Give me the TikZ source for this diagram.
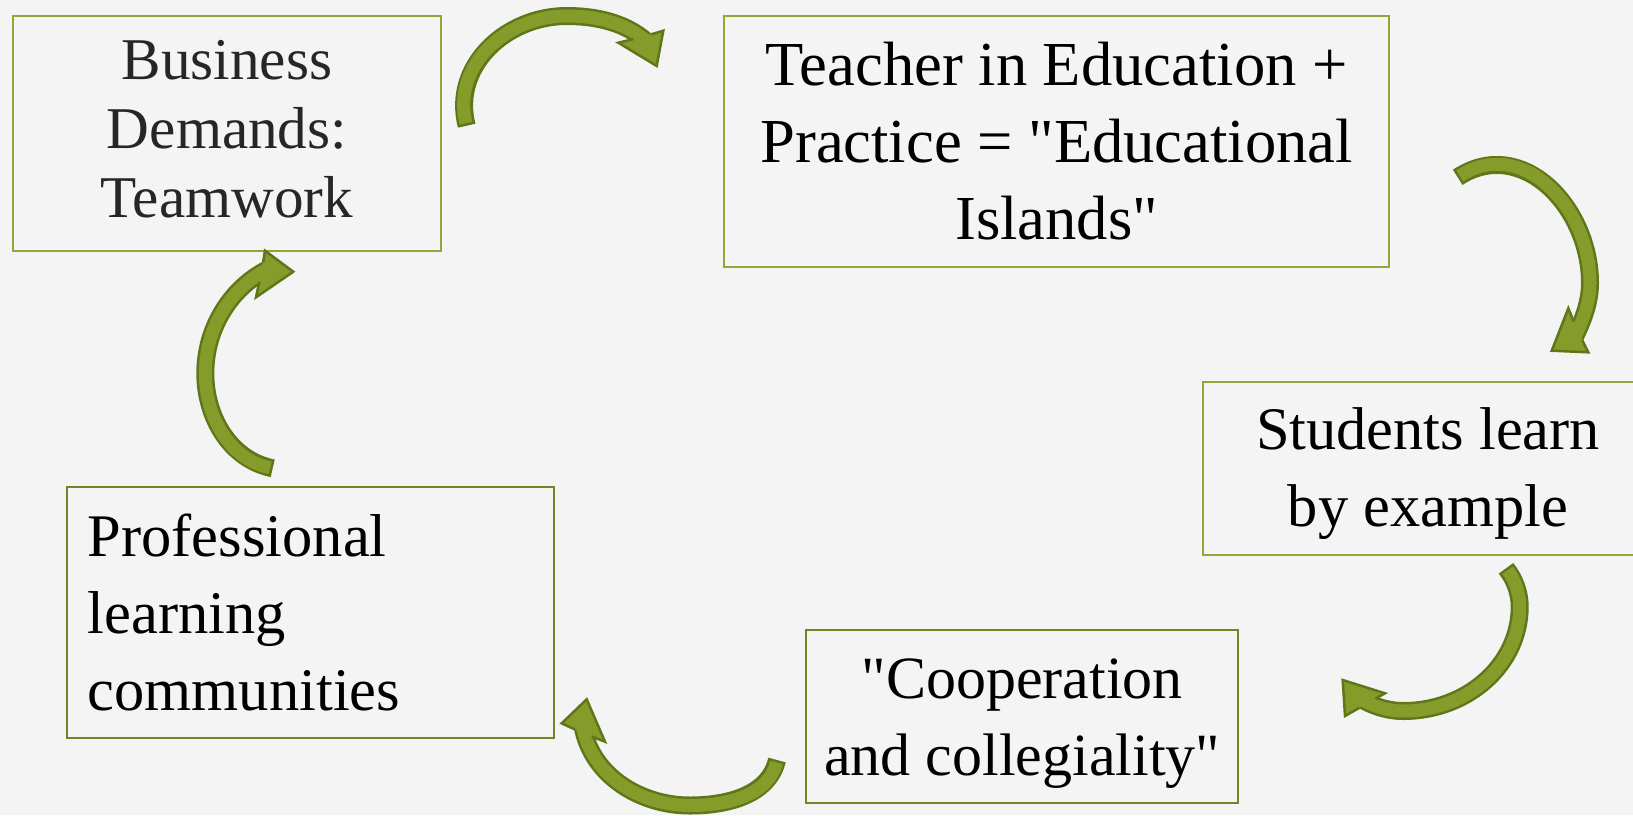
\documentclass[tikz,border=0pt]{standalone}
\usepackage{fontspec}
\setmainfont{Liberation Serif}[Ligatures=TeXOff]
\definecolor{bgc}{RGB}{244,244,244}
\definecolor{boxlt}{RGB}{141,168,56}
\definecolor{boxdk}{RGB}{112,134,38}
\definecolor{arrfill}{RGB}{133,155,42}
\definecolor{arrdark}{RGB}{95,118,25}
\definecolor{txtgray}{RGB}{38,38,38}
\begin{document}
\begin{tikzpicture}[x=0.5pt,y=-0.5pt,
  box/.style={draw=boxlt, line width=1pt, inner sep=0pt, align=center, text=black},
  shaftout/.style={draw=arrdark, line width=9pt},
  shaftin/.style={draw=arrfill, line width=6.5pt, shorten <=1.25pt},
  headfill/.style={fill=arrfill},
  headline/.style={draw=arrdark, line width=1.25pt, line join=miter},
]
\fill[bgc] (0,0) rectangle (1633,815);
\useasboundingbox (0,0) rectangle (1633,815);

% boxes
\node[box, minimum width=214pt, minimum height=117.5pt, text=txtgray,
      font=\fontsize{29.6pt}{34.6pt}\selectfont] (b1) at (227,133.2)
  {\rule{0pt}{27.5pt}Business\\Demands:\\Teamwork\rule[-12pt]{0pt}{12pt}};
\node[box, minimum width=332.75pt, minimum height=125.6pt,
      font=\fontsize{31.3pt}{38.5pt}\selectfont] (b2) at (1056.7,141.1)
  {\rule{0pt}{33.6pt}Teacher in Education +\\Practice = "Educational\\Islands"\rule[-12pt]{0pt}{12pt}};
\node[box, minimum width=224.7pt, minimum height=86.35pt,
      font=\fontsize{30.2pt}{38.35pt}\selectfont] (b3) at (1428,468.65)
  {\rule{0pt}{31.65pt}Students learn\\by example\rule[-12pt]{0pt}{12pt}};
\node[box, draw=boxdk, minimum width=216.15pt, minimum height=86.35pt,
      font=\fontsize{30pt}{38.35pt}\selectfont] (b4) at (1022.15,716.35)
  {\rule{0pt}{32.3pt}"Cooperation\\and collegiality"\rule[-12pt]{0pt}{12pt}};
\node[box, draw=boxdk, align=left, text width=222.65pt, inner xsep=10.5pt,
      minimum height=125.8pt,
      font=\fontsize{30.25pt}{38.5pt}\selectfont] (b5) at (310.35,612.5)
  {\rule{0pt}{32.5pt}Professional\\learning\\communities\rule[-12pt]{0pt}{12pt}};

% arrow 1 : b1 -> b2
\coordinate (a1t) at (466.7,125.7);
\coordinate (a1m) at (566.7,16);
\coordinate (a1e) at (650.7,45.3);
\begin{scope}
  \clip (0,0) -- (1633,0) -- (1633,815) -- (0,815) -- cycle
        (604.1,47.5) -- (611.8,76.5) -- (685.8,56.8) -- (678.1,27.8) -- cycle;
  \draw[shaftout] (a1t) .. controls (451.4,66.5) and (505.7,16) .. (a1m)
        .. controls (597.6,16) and (629.1,23.2) .. (a1e);
  \draw[shaftin] (a1t) .. controls (451.4,66.5) and (505.7,16) .. (a1m)
        .. controls (597.6,16) and (629.1,23.2) .. (a1e);
\end{scope}
\fill[headfill] (618.3,42.7) -- (656.7,66) -- (663.3,30.7) -- cycle;
\draw[headline] (633.4,39.1) -- (618.3,42.7) -- (656.7,66) -- (663.3,30.7) -- (651.2,34.3);

% arrow 2 : b2 -> b3
\coordinate (a2t) at (1457.7,177.3);
\coordinate (a2m) at (1590,283);
\coordinate (a2e) at (1572.6,341.5);
\begin{scope}
  \clip (0,0) -- (1633,0) -- (1633,815) -- (0,815) -- cycle
        (1561.2,295.0) -- (1533.9,307.4) -- (1566.3,378.8) -- (1593.6,366.4) -- cycle;
  \draw[shaftout] (a2t) .. controls (1521.5,135.5) and (1590,207) .. (a2m)
        .. controls (1590,303.7) and (1581.9,323.0) .. (a2e);
  \draw[shaftin] (a2t) .. controls (1521.5,135.5) and (1590,207) .. (a2m)
        .. controls (1590,303.7) and (1581.9,323.0) .. (a2e);
\end{scope}
\fill[headfill] (1568.3,308.3) -- (1551.7,350.7) -- (1588.3,352.3) -- cycle;
\draw[headline] (1573.7,321.4) -- (1568.3,308.3) -- (1551.7,350.7) -- (1588.3,352.3) -- (1582.3,340.2);

% arrow 3 : b3 -> b4
\coordinate (a3t) at (1506,568.3);
\coordinate (a3m) at (1519.7,606.7);
\coordinate (a3n) at (1403.3,711);
\coordinate (a3e) at (1357.3,696.9);
\begin{scope}
  \clip (0,0) -- (1633,0) -- (1633,815) -- (0,815) -- cycle
        (1397.6,685.0) -- (1382.9,658.9) -- (1316.8,696.4) -- (1331.5,722.5) -- cycle;
  \draw[shaftout] (a3t) .. controls (1514.7,579.4) and (1519.7,592.7) .. (a3m)
        .. controls (1519.7,664.3) and (1467.8,711) .. (a3n)
        .. controls (1386.9,711) and (1371.2,705.6) .. (a3e);
  \draw[shaftin] (a3t) .. controls (1514.7,579.4) and (1519.7,592.7) .. (a3m)
        .. controls (1519.7,664.3) and (1467.8,711) .. (a3n)
        .. controls (1386.9,711) and (1371.2,705.6) .. (a3e);
\end{scope}
\fill[headfill] (1385,693.3) -- (1342.7,680) -- (1345,716) -- cycle;
\draw[headline] (1375.4,698.7) -- (1385,693.3) -- (1342.7,680) -- (1345,716) -- (1359.6,707.7);

% arrow 4 : b4 -> b5
\coordinate (a4t) at (777,760);
\coordinate (a4m) at (690,805.5);
\coordinate (a4e) at (581.8,721.1);
\begin{scope}
  \clip (0,0) -- (1633,0) -- (1633,815) -- (0,815) -- cycle
        (619.2,746.6) -- (630.9,719.0) -- (560.0,688.9) -- (548.3,716.5) -- cycle;
  \draw[shaftout] (a4t) .. controls (768.6,795.6) and (726.7,805.5) .. (a4m)
        .. controls (637.7,805.5) and (588.1,773.0) .. (a4e);
  \draw[shaftin] (a4t) .. controls (768.6,795.6) and (726.7,805.5) .. (a4m)
        .. controls (637.7,805.5) and (588.1,773.0) .. (a4e);
\end{scope}
\fill[headfill] (605,741.7) -- (586.7,699.3) -- (561.7,723.3) -- cycle;
\draw[headline] (591.8,736.6) -- (605,741.7) -- (586.7,699.3) -- (561.7,723.3) -- (574.8,729.4);

% arrow 5 : b5 -> b1
\coordinate (a5t) at (272.7,468.3);
\coordinate (a5m) at (205.3,373.3);
\coordinate (a5e) at (272.1,267.0);
\begin{scope}
  \clip (0,0) -- (1633,0) -- (1633,815) -- (0,815) -- cycle
        (254.1,312.2) -- (283.6,317.9) -- (298.3,241.9) -- (268.8,236.2) -- cycle;
  \draw[shaftout] (a5t) .. controls (229.9,459.6) and (205.3,416.9) .. (a5m)
        .. controls (205.3,328.0) and (230.9,285.9) .. (a5e);
  \draw[shaftin] (a5t) .. controls (229.9,459.6) and (205.3,416.9) .. (a5m)
        .. controls (205.3,328.0) and (230.9,285.9) .. (a5e);
\end{scope}
\fill[headfill] (256,297.3) -- (293.3,271.7) -- (265,250.7) -- cycle;
\draw[headline] (259.3,281.7) -- (256,297.3) -- (293.3,271.7) -- (265,250.7) -- (263.1,262.3);
\end{tikzpicture}
\end{document}
